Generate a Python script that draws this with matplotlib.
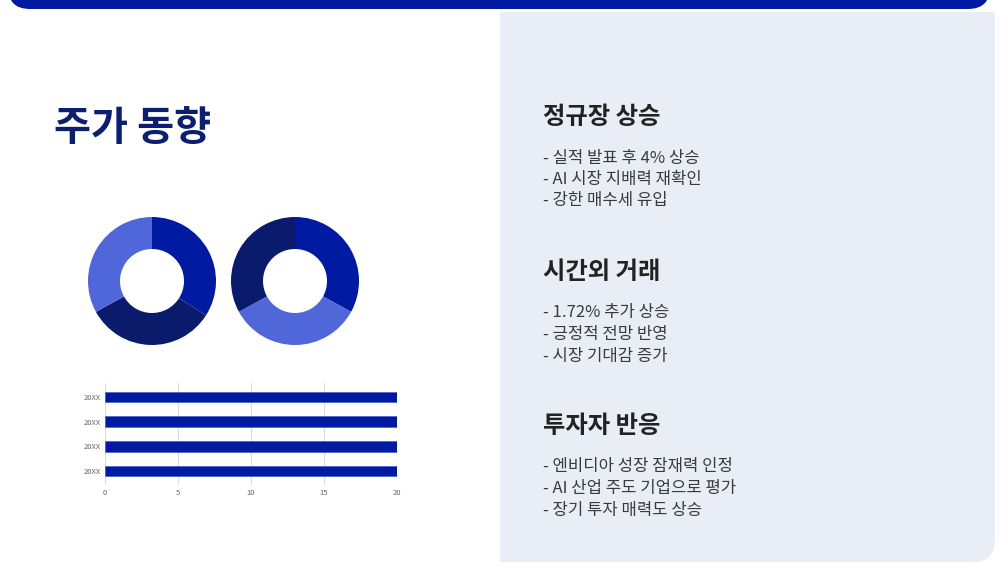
import matplotlib
matplotlib.use("Agg")
import matplotlib.pyplot as plt
from matplotlib.patches import FancyBboxPatch, Rectangle

plt.rcParams['font.family'] = ['Noto Sans CJK KR', 'DejaVu Sans']

# ---- data ----
title = "주가 동향"
pie1_values = [34, 33, 33]
pie2_values = [33, 34, 33]
bar_labels = ["20XX", "20XX", "20XX", "20XX"]
bar_values = [20, 20, 20, 20]
bar_ticks = [0, 5, 10, 15, 20]

sections = [
    ("정규장 상승", ["- 실적 발표 후 4% 상승", "- AI 시장 지배력 재확인", "- 강한 매수세 유입"]),
    ("시간외 거래", ["- 1.72% 추가 상승", "- 긍정적 전망 반영", "- 시장 기대감 증가"]),
    ("투자자 반응", ["- 엔비디아 성장 잠재력 인정", "- AI 산업 주도 기업으로 평가", "- 장기 투자 매력도 상승"]),
]

BLUE = "#001ba1"
NAVY = "#0b1b6c"
LIGHT = "#4f67d9"
TITLE_C = "#0c1f6e"
PANEL = "#e9eef6"

W, H = 1000, 562
fig = plt.figure(figsize=(10, 5.62), dpi=100)
fig.patch.set_facecolor("white")

# background layer in pixel coords
bg = fig.add_axes([0, 0, 1, 1])
bg.set_xlim(0, W)
bg.set_ylim(H, 0)
bg.axis("off")

# right panel with rounded bottom-right corner
bg.add_patch(FancyBboxPatch((500, 12), 495, 550, boxstyle="round,pad=0,rounding_size=22",
                            facecolor=PANEL, edgecolor="none"))
bg.add_patch(Rectangle((500, 12), 400, 550, facecolor=PANEL, edgecolor="none"))
bg.add_patch(Rectangle((500, 12), 495, 100, facecolor=PANEL, edgecolor="none"))

# top band
bg.add_patch(FancyBboxPatch((8, -40), 982, 49, boxstyle="round,pad=0,rounding_size=22",
                            facecolor=BLUE, edgecolor="none"))

# title
bg.text(54, 128, title, fontsize=29, fontweight="black", color=TITLE_C,
        ha="left", va="center")

# right-hand text
head_y = [117, 272, 426]
for (head, items), y0 in zip(sections, head_y):
    bg.text(543, y0, head, fontsize=17.5, fontweight="black", color="#222222",
            ha="left", va="center")
    for i, item in enumerate(items):
        bg.text(543, y0 + 41 + i * 21.5, item, fontsize=12, color="#3a3a3a",
                ha="left", va="center")


def px_axes(cx, cy, r):
    return fig.add_axes([(cx - r) / W, (H - cy - r) / H, 2 * r / W, 2 * r / H])


# donuts
ax1 = px_axes(152, 281, 64)
ax1.pie(pie1_values, colors=[BLUE, NAVY, LIGHT], startangle=90, counterclock=False,
        radius=1, wedgeprops=dict(width=0.5, edgecolor="none"))
ax1.set_xlim(-1, 1)
ax1.set_ylim(-1, 1)
ax1.set_aspect("equal")

ax2 = px_axes(295, 281, 64)
ax2.pie(pie2_values, colors=[BLUE, LIGHT, NAVY], startangle=90, counterclock=False,
        radius=1, wedgeprops=dict(width=0.5, edgecolor="none"))
ax2.set_xlim(-1, 1)
ax2.set_ylim(-1, 1)
ax2.set_aspect("equal")

# bar chart
bx = fig.add_axes([105 / W, (H - 484.6) / H, 292 / W, 101.2 / H])
ypos = list(range(len(bar_values)))
bx.barh(ypos, bar_values, height=0.42, color=BLUE, edgecolor="#3b55d0", linewidth=0.4, zorder=3)
bx.set_xlim(0, 20)
bx.set_ylim(-0.55, 3.55)
bx.set_yticks(ypos)
bx.set_yticklabels(bar_labels)
bx.set_xticks(bar_ticks)
bx.grid(axis="x", color="#dcdcdc", linewidth=0.8, zorder=0)
for s in bx.spines.values():
    s.set_visible(False)
bx.tick_params(length=0, labelsize=5.5, labelcolor="#666666", pad=3)
bx.set_facecolor("none")

fig.savefig("out.png", dpi=100)
